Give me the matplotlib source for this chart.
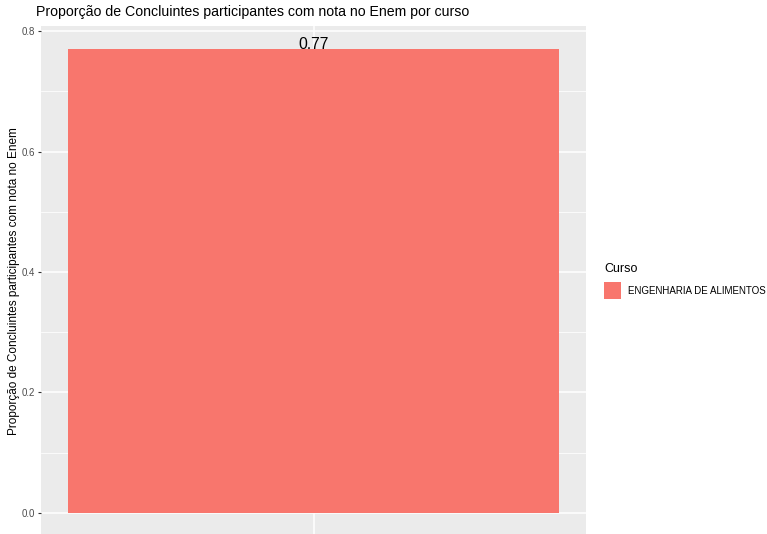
import matplotlib
matplotlib.use("Agg")
import matplotlib.pyplot as plt
import numpy as np

plt.rcParams['font.family'] = ['Liberation Sans', 'DejaVu Sans']

# data
cursos = ['ENGENHARIA DE ALIMENTOS']
proporcao = [0.77]
rotulos = ['0.77']
y_ticks = [0.0, 0.2, 0.4, 0.6, 0.8]

fig = plt.figure(figsize=(7.67, 5.34), dpi=100)
W, H = 767, 534
left, right, top, bottom = 41, 586, 26, 536
ax = fig.add_axes([left / W, 1 - bottom / H, (right - left) / W, (bottom - top) / H])

ax.set_facecolor('#EBEBEB')
x = np.arange(1, len(cursos) + 1)
ax.bar(x, proporcao, width=0.9, color='#F8766D', zorder=3)
for xi, v, r in zip(x, proporcao, rotulos):
    ax.text(xi, v, r, ha='center', va='baseline', fontsize=11.3, color='black', zorder=4)

ymax = max(proporcao)
ax.set_ylim(-0.05 * ymax, ymax * 1.05)
ax.set_xlim(0.5, len(cursos) + 0.5)
ax.set_yticks(y_ticks)
ax.set_yticklabels(['%.1f' % t for t in y_ticks])
ax.set_yticks(np.arange(0.1, 0.8, 0.2), minor=True)
ax.set_xticks(x)
ax.set_xticklabels([])
ax.grid(which='major', color='white', linewidth=1.1, zorder=0)
ax.grid(which='minor', axis='y', color='white', linewidth=0.55, zorder=0)
ax.tick_params(axis='y', which='major', labelsize=7, labelcolor='#4D4D4D', color='#333333',
               length=2.5, width=0.8, pad=1.8)
ax.tick_params(axis='y', which='minor', length=0)
ax.tick_params(axis='x', length=0)
for s in ax.spines.values():
    s.set_visible(False)

fig.text(14 / W, 1 - 281 / H, 'Proporção de Concluintes participantes com nota no Enem',
         fontsize=8.5, rotation=90, ha='center', va='center')
fig.text(36 / W, 1 - 12 / H, 'Proporção de Concluintes participantes com nota no Enem por curso',
         fontsize=10.15, ha='left', va='center')

# legend
fig.text(604 / W, 1 - 269 / H, 'Curso', fontsize=9, ha='left', va='center')
fig.patches.append(plt.Rectangle((604 / W, 1 - 299 / H), 17 / W, 17 / H,
                                 transform=fig.transFigure, facecolor='#F8766D', edgecolor='none'))
fig.text(628 / W, 1 - 290.5 / H, cursos[0], fontsize=7, ha='left', va='center')

fig.savefig('out.png', dpi=100)
